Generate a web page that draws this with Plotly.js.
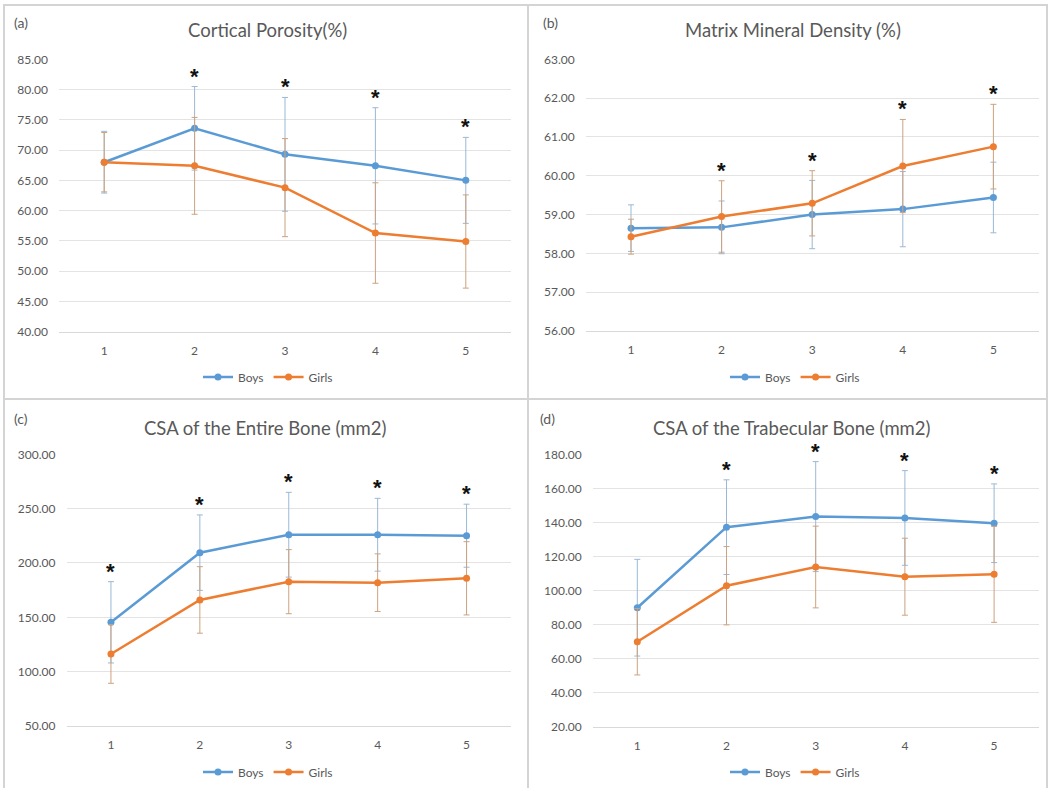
<!DOCTYPE html>
<html>
<head>
<meta charset="utf-8">
<script src="https://cdn.plot.ly/plotly-3.0.1.min.js"></script>
<style>html,body{margin:0;padding:0;background:#fff;} #chart{width:1049px;height:788px;}</style>
</head>
<body>
<div id="chart"></div>
<script>
// ---- data ----
const groups = [1, 2, 3, 4, 5];

// (a) Cortical Porosity (%)
const porosityBoys = [68.0, 73.6, 69.3, 67.4, 65.0];
const porosityBoysErr = [5.1, 6.9, 9.4, 9.6, 7.1];
const porosityGirls = [68.0, 67.4, 63.8, 56.3, 54.9];
const porosityGirlsErr = [4.9, 8.0, 8.1, 8.3, 7.7];
const porositySig = [false, true, true, true, true];

// (b) Matrix Mineral Density (%)
const mmdBoys = [58.65, 58.67, 59.00, 59.14, 59.44];
const mmdBoysErr = [0.60, 0.68, 0.88, 0.97, 0.91];
const mmdGirls = [58.43, 58.95, 59.29, 60.25, 60.75];
const mmdGirlsErr = [0.45, 0.92, 0.84, 1.20, 1.09];
const mmdSig = [false, true, true, true, true];

// (c) CSA of the Entire Bone (mm2)
const csaEntireBoys = [145.4, 209.5, 226.0, 226.0, 225.1];
const csaEntireBoysErr = [37.4, 34.7, 39.0, 33.5, 29.0];
const csaEntireGirls = [116.3, 166.0, 182.8, 181.9, 185.9];
const csaEntireGirlsErr = [27.0, 30.6, 29.5, 26.5, 33.7];
const csaEntireSig = [true, true, true, true, true];

// (d) CSA of the Trabecular Bone (mm2)
const csaTrabBoys = [89.9, 137.2, 143.4, 142.6, 139.5];
const csaTrabBoysErr = [28.4, 27.8, 32.3, 27.8, 23.1];
const csaTrabGirls = [69.9, 102.8, 113.8, 108.1, 109.5];
const csaTrabGirlsErr = [19.5, 23.0, 24.0, 22.6, 28.2];
const csaTrabSig = [false, true, true, true, true];

const panelTitles = ['Cortical Porosity(%)', 'Matrix Mineral Density (%)', 'CSA of the Entire Bone (mm2)', 'CSA of the Trabecular Bone (mm2)'];
const panelLabels = ['(a)', '(b)', '(c)', '(d)'];
const seriesNames = ['Boys', 'Girls'];

// ---- layout helpers ----
const W = 1049, H = 788;
const px = x => x / W;
const py = y => 1 - y / H;
const BLUE = '#5b9bd5', ORANGE = '#ed7d31';
const BLUE_ERR = '#9ab8d6', ORANGE_ERR = '#cda27f';
const TXT = '#595959';
const FONT = 'Lato, "Open Sans", sans-serif';

const panels = [
  {boys: porosityBoys, be: porosityBoysErr, girls: porosityGirls, ge: porosityGirlsErr, sig: porositySig,
   yr: [40, 85], dt: 5, xd: [59, 511], yd: [59.3, 331.7], title: [267, 30], lab: [12, 22], leg: [268, 377]},
  {boys: mmdBoys, be: mmdBoysErr, girls: mmdGirls, ge: mmdGirlsErr, sig: mmdSig,
   yr: [56, 63], dt: 1, xd: [585.7, 1038.7], yd: [59.3, 331], title: [793, 30], lab: [541, 22], leg: [795, 377]},
  {boys: csaEntireBoys, be: csaEntireBoysErr, girls: csaEntireGirls, ge: csaEntireGirlsErr, sig: csaEntireSig,
   yr: [50, 300], dt: 50, xd: [66.5, 511], yd: [454.3, 726], title: [265, 428], lab: [12, 418], leg: [268, 772]},
  {boys: csaTrabBoys, be: csaTrabBoysErr, girls: csaTrabGirls, ge: csaTrabGirlsErr, sig: csaTrabSig,
   yr: [20, 180], dt: 20, xd: [592.7, 1038.7], yd: [454.3, 726.7], title: [792, 428], lab: [538, 418], leg: [795, 772]}
];

const data = [];
const layout = {
  width: W, height: H,
  margin: {l: 0, r: 0, t: 0, b: 0},
  paper_bgcolor: '#fff', plot_bgcolor: '#fff',
  font: {family: FONT, color: TXT, size: 12},
  annotations: [], shapes: []
};

panels.forEach((p, i) => {
  const n = i + 1;
  const xa = n === 1 ? 'x' : 'x' + n;
  const ya = n === 1 ? 'y' : 'y' + n;
  const legName = n === 1 ? 'legend' : 'legend' + n;
  const mk = (name, vals, err, color, ecolor) => ({
    type: 'scatter', mode: 'lines+markers', name: name,
    x: groups, y: vals, xaxis: xa, yaxis: ya, legend: legName,
    line: {color: color, width: 2.5},
    marker: {color: color, size: 7},
    error_y: {type: 'data', array: err, visible: true, color: ecolor, thickness: 1, width: 3}
  });
  data.push(mk(seriesNames[0], p.boys, p.be, BLUE, BLUE_ERR));
  data.push(mk(seriesNames[1], p.girls, p.ge, ORANGE, ORANGE_ERR));

  layout['xaxis' + (n === 1 ? '' : n)] = {
    domain: [px(p.xd[0]), px(p.xd[1])], anchor: ya,
    range: [0.5, 5.5], tickvals: groups, ticktext: groups.map(String),
    showgrid: false, zeroline: false, showline: true, linecolor: '#d9d9d9', linewidth: 1,
    ticks: '', ticklabelstandoff: 8, tickfont: {size: 12, color: TXT, family: FONT}, fixedrange: true
  };
  const tv = [];
  for (let v = p.yr[0]; v <= p.yr[1] + 1e-9; v += p.dt) tv.push(v);
  layout['yaxis' + (n === 1 ? '' : n)] = {
    domain: [py(p.yd[1]), py(p.yd[0])], anchor: xa,
    range: p.yr, tickvals: tv, tickformat: '.2f',
    showgrid: true, gridcolor: '#e3e3e3', gridwidth: 1, zeroline: false, showline: false,
    ticks: '', ticklabelstandoff: 10, tickfont: {size: 12, color: TXT, family: FONT}, fixedrange: true
  };
  layout[legName] = {
    orientation: 'h', x: px(p.leg[0]), y: py(p.leg[1]), xanchor: 'center', yanchor: 'middle',
    font: {size: 12, color: TXT, family: FONT}, itemwidth: 30, bgcolor: 'rgba(0,0,0,0)', tracegroupgap: 0
  };
  layout.annotations.push({
    xref: 'paper', yref: 'paper', x: px(p.title[0]), y: py(p.title[1]),
    xanchor: 'center', yanchor: 'middle', showarrow: false,
    text: panelTitles[i], font: {size: 18.5, color: TXT, family: FONT}
  });
  layout.annotations.push({
    xref: 'paper', yref: 'paper', x: px(p.lab[0]), y: py(p.lab[1]),
    xanchor: 'left', yanchor: 'middle', showarrow: false,
    text: panelLabels[i], font: {size: 14, color: TXT, family: FONT}
  });
  groups.forEach((g, k) => {
    if (!p.sig[k]) return;
    const top = Math.max(p.boys[k] + p.be[k], p.girls[k] + p.ge[k]);
    layout.annotations.push({
      xref: xa, yref: ya, x: g, y: top, yanchor: 'bottom', yshift: -4, showarrow: false,
      text: '<b>*</b>', font: {size: 22, color: '#111', family: '"Liberation Sans", Arial, sans-serif'}
    });
  });
});

// panel frames
const frame = {type: 'rect', xref: 'paper', yref: 'paper', line: {color: '#d4d4d4', width: 2}, fillcolor: 'rgba(0,0,0,0)'};
[[4, 5, 528, 399], [528, 5, 1047, 399], [4, 399, 528, 790], [528, 399, 1047, 790]].forEach(r => {
  layout.shapes.push(Object.assign({}, frame, {x0: px(r[0]), x1: px(r[2]), y0: py(r[3]), y1: py(r[1])}));
});

Plotly.newPlot('chart', data, layout, {staticPlot: true, displayModeBar: false});
</script>
</body>
</html>
